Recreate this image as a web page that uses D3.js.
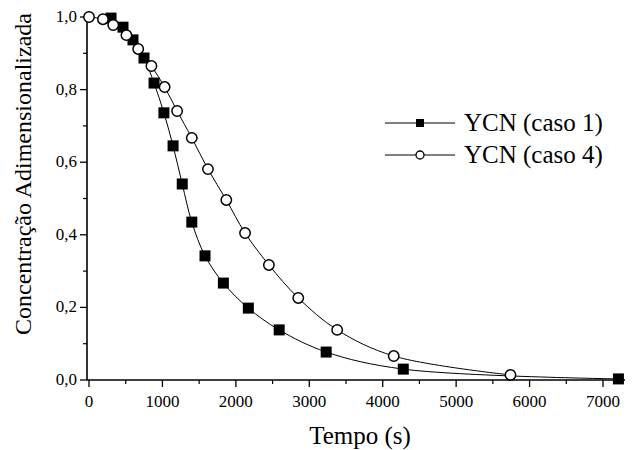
<!DOCTYPE html>
<html><head><meta charset="utf-8">
<script src="https://cdn.jsdelivr.net/npm/d3@7"></script>
<style>
body{margin:0;background:#fff}
svg{display:block}
svg text{font-family:"Liberation Serif",LiberationSerif,"Times New Roman",Times,Tinos,"Noto Serif","DejaVu Serif",FreeSerif,serif}
</style>
</head><body>
<svg id="c" width="635" height="450"></svg>
<script>
const case1Time = [300,463,599,749,886,1020,1145,1270,1400,1580,1830,2170,2590,3230,4280,7210];
const case1Value = [0.997,0.972,0.937,0.887,0.818,0.736,0.645,0.540,0.435,0.342,0.267,0.198,0.138,0.077,0.030,0.003];
const case4Time = [0,190,330,510,670,850,1030,1200,1400,1620,1870,2125,2450,2850,3380,4150,5740];
const case4Value = [1.0,0.994,0.978,0.950,0.912,0.865,0.807,0.741,0.667,0.581,0.496,0.405,0.317,0.226,0.138,0.066,0.014];
const xTicks = [0,1000,2000,3000,4000,5000,6000,7000];
const yTicks = [0,0.2,0.4,0.6,0.8,1.0];
const seriesNames = ["YCN (caso 1)","YCN (caso 4)"];
const xTitle = "Tempo (s)";
const yTitle = "Concentração Adimensionalizada";

const svg = d3.select("#c");
const x = d3.scaleLinear().domain([0,7000]).range([89,603]);
const y = d3.scaleLinear().domain([0,1]).range([380,17]);
const x0 = x(-27), x1 = x(7300);

const fmt = d => d3.format(".1f")(d).replace(".", ",");

// x axis
const gx = svg.append("g").attr("transform","translate(0,380)");
gx.append("line").attr("x1",x0).attr("x2",x1).attr("stroke","#000").attr("stroke-width",1.6);
const xMinor = d3.range(500,7300,1000);
gx.selectAll(".xm").data(xMinor).join("line").attr("x1",d=>x(d)).attr("x2",d=>x(d)).attr("y1",0).attr("y2",4).attr("stroke","#000").attr("stroke-width",1.2);
gx.selectAll(".xM").data(xTicks).join("line").attr("x1",d=>x(d)).attr("x2",d=>x(d)).attr("y1",0).attr("y2",7).attr("stroke","#000").attr("stroke-width",1.3);
gx.selectAll(".xl").data(xTicks).join("text").attr("x",d=>x(d)).attr("y",27).attr("text-anchor","middle")
  .style("font-size","17px").text(d=>d);

// y axis
const gy = svg.append("g").attr("transform","translate(87,0)");
gy.append("line").attr("y1",y(0)).attr("y2",y(1.005)).attr("stroke","#000").attr("stroke-width",1.6);
const yMinor = d3.range(0.1,1.0,0.2);
gy.selectAll(".ym").data(yMinor).join("line").attr("y1",d=>y(d)).attr("y2",d=>y(d)).attr("x1",0).attr("x2",-4).attr("stroke","#000").attr("stroke-width",1.2);
gy.selectAll(".yM").data(yTicks).join("line").attr("y1",d=>y(d)).attr("y2",d=>y(d)).attr("x1",0).attr("x2",-7).attr("stroke","#000").attr("stroke-width",1.3);
gy.selectAll(".yl").data(yTicks).join("text").attr("x",-10).attr("y",d=>y(d)+5).attr("text-anchor","end")
  .style("font-size","17px").text(fmt);

// titles
svg.append("text").attr("x",360).attr("y",444).attr("text-anchor","middle").style("font-size","25px").text(xTitle);
svg.append("text").attr("transform","translate(31,174) rotate(-90)").attr("text-anchor","middle").style("font-size","24px").text(yTitle);

const line = d3.line().x(d=>x(d[0])).y(d=>y(d[1])).curve(d3.curveCatmullRom.alpha(0.5));
const s1 = case1Time.map((t,i)=>[t,case1Value[i]]);
const s4 = case4Time.map((t,i)=>[t,case4Value[i]]);

svg.append("path").datum(s1).attr("d",line).attr("fill","none").attr("stroke","#000").attr("stroke-width",1);
svg.selectAll(".sq").data(s1).join("rect").attr("x",d=>x(d[0])-5.5).attr("y",d=>y(d[1])-5.5).attr("width",11).attr("height",11).attr("fill","#000");

svg.append("path").datum(s4).attr("d",line).attr("fill","none").attr("stroke","#000").attr("stroke-width",1);
svg.selectAll(".ci").data(s4).join("circle").attr("cx",d=>x(d[0])).attr("cy",d=>y(d[1])).attr("r",5.2).attr("fill","#fff").attr("stroke","#000").attr("stroke-width",1.5);

// legend
const lg = svg.append("g");
const rows = [123,155];
rows.forEach((ry,i)=>{
  lg.append("line").attr("x1",385).attr("x2",455).attr("y1",ry).attr("y2",ry).attr("stroke","#000").attr("stroke-width",1);
  if(i===0) lg.append("rect").attr("x",416).attr("y",ry-4).attr("width",8).attr("height",8).attr("fill","#000");
  else lg.append("circle").attr("cx",420).attr("cy",ry).attr("r",4).attr("fill","#fff").attr("stroke","#000").attr("stroke-width",1.3);
  lg.append("text").attr("x",464).attr("y",ry+8).style("font-size","25px").text(seriesNames[i]);
});
</script>
</body></html>
